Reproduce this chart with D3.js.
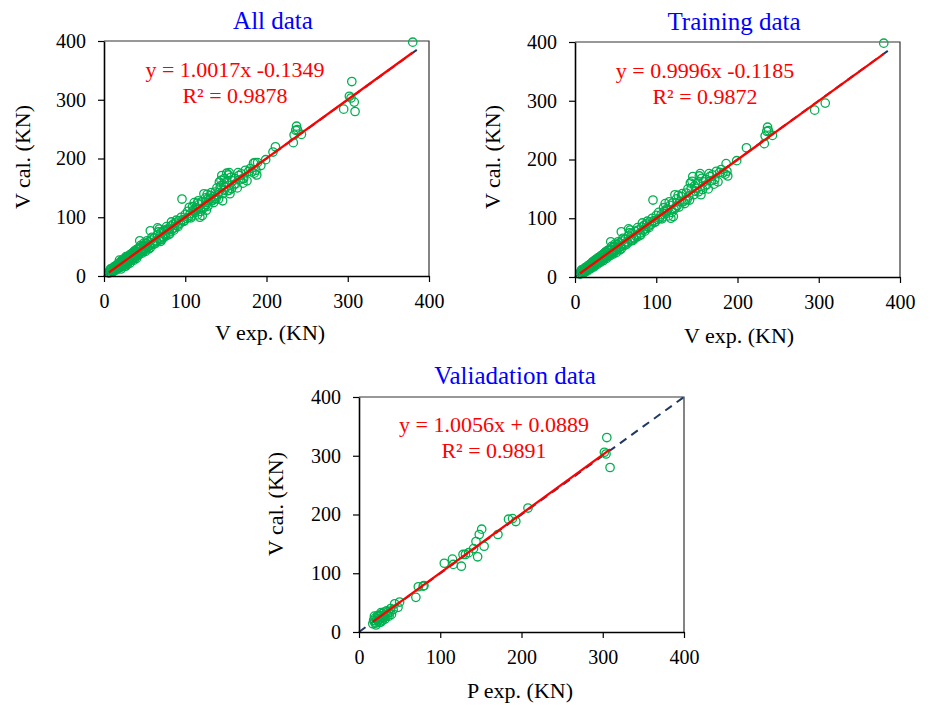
<!DOCTYPE html>
<html>
<head>
<meta charset="utf-8">
<script src="https://cdn.jsdelivr.net/npm/d3@7"></script>
<style>
  body { margin: 0; background: #fff; }
  svg { display: block; }
  text { font-family: "Liberation Serif", "Times New Roman", serif; }
</style>
</head>
<body>
<div id="chart"></div>
<script>
// --- Data ---
const titles = ["All data", "Training data", "Valiadation data"];
const xLabels = ["V exp. (KN)", "V exp. (KN)", "P exp. (KN)"];
const yLabel = "V cal. (KN)";
const equations = ["y = 1.0017x -0.1349", "y = 0.9996x -0.1185", "y = 1.0056x + 0.0889"];
const r2Labels = ["R² = 0.9878", "R² = 0.9872", "R² = 0.9891"];
const slopes = [1.0017, 0.9996, 1.0056];
const intercepts = [-0.1349, -0.1185, 0.0889];
const diagonalMax = [390, 390, 400];
const ticks = [0, 100, 200, 300, 400];

// [exp, cal]
const trainingPoints = [
  [6,5],[7,9],[8,6],[9,11],[10,8],[10,13],[11,10],[12,9],[12,15],[13,12],[14,11],[14,17],
  [15,14],[16,13],[16,19],[17,16],[18,14],[18,21],[19,18],[20,16],[20,23],[21,19],[22,18],
  [22,26],[23,21],[24,20],[24,28],[25,23],[26,22],[26,30],[27,25],[28,24],[28,32],[29,27],
  [30,26],[30,34],[31,29],[32,27],[32,36],[33,31],[34,30],[34,38],[35,33],[36,31],[36,40],
  [37,35],[38,34],[38,43],[39,37],[40,35],[40,45],[41,39],[42,38],[43,47],[44,41],[44,60],
  [45,40],[46,50],[47,44],[48,43],[49,52],[50,47],[51,46],[52,55],[53,50],[54,49],[55,58],
  [56,52],[57,48],[57,77],[58,61],[60,56],[61,54],[62,65],[64,60],[65,58],[66,70],[66,82],
  [68,64],[68,80],[69,62],[70,74],[72,67],[73,65],[74,78],[75,70],[76,68],[78,80],[80,75],
  [81,72],[82,85],[84,80],[85,88],[86,78],[88,90],[90,86],[92,94],[94,90],[96,131],[97,96],
  [98,93],[100,105],[102,98],[104,100],[106,106],[108,102],[110,112],[111,125],[112,108],
  [114,114],[115,104],[117,122],[118,100],[120,126],[121,103],[122,115],[123,140],[124,118],
  [126,122],[127,139],[129,128],[131,137],[133,128],[135,125],[137,143],[138,132],[140,138],
  [141,131],[142,160],[143,151],[145,171],[146,140],[148,146],[150,151],[152,145],[154,176],
  [155,140],[156,168],[158,162],[160,155],[162,157],[164,150],[166,171],[168,164],[171,158],
  [174,180],[176,162],[178,178],[182,177],[185,175],[188,172],[199,198],[211,220],[233,227],
  [234,240],[236,248],[237,255],[238,249],[243,241],[295,284],[308,296],[380,398],
  [8,12],[11,7],[13,16],[15,10],[17,20],[19,14],[21,25],[23,17],[25,29],[27,21],[29,33],
  [31,25],[33,37],[35,28],[37,42],[39,32],[41,46],[43,36],[45,52],[47,39],[49,56],[51,42],
  [53,60],[55,46],[59,66],[63,55],[67,75],[71,62],[77,84],[79,70],[83,92],[87,82],[89,95],
  [91,84],[95,100],[99,94],[103,110],[107,99],[109,118],[113,116],[116,128],[119,110],
  [125,133],[128,119],[132,142],[136,131],[139,150],[144,163],[147,155],[151,160],[153,172],
  [157,149],[161,166],[165,176],[169,174],[172,166],[180,183],[186,193],[187,180]
];

const validationPoints = [
  [17,14],[18,20],[19,17],[20,24],[21,15],[22,22],[23,19],[24,26],[25,21],[26,28],[27,17],
  [28,31],[29,24],[30,27],[31,34],[32,22],[33,30],[35,28],[36,35],[38,33],[40,30],[42,38],
  [44,48],[48,42],[50,51],[70,59],[73,77],[79,78],[80,79],[105,117],[115,124],[116,115],
  [126,112],[128,132],[131,132],[135,135],[141,142],[144,154],[146,128],[148,166],[151,175],
  [154,146],[171,166],[184,192],[189,193],[193,188],[208,211],[302,306],[304,303],[305,331],
  [309,280],[19,27],[21,12],[23,28],[25,16],[27,33],[29,20],[31,25],[34,36],[37,27],[39,40]
];

const allPoints = trainingPoints.concat(validationPoints);
const panelData = [allPoints, trainingPoints, validationPoints];

// --- Layout ---
const W = 932, H = 705;
const plotW = 325, plotH = 235;
const layout = [
  { left: 104, top: 41, titleX: 273, titleY: 29, eqX: 235, eqY: 77, xlabX: 270, xlabY: 340, ylabX: 30, ylabY: 157 },
  { left: 575, top: 42, titleX: 734, titleY: 30, eqX: 705, eqY: 78, xlabX: 739, xlabY: 343, ylabX: 500, ylabY: 157 },
  { left: 359, top: 397, titleX: 515, titleY: 384, eqX: 494, eqY: 432, xlabX: 520, xlabY: 698, ylabX: 283, ylabY: 504 }
];

const svg = d3.select("#chart").append("svg")
  .attr("width", W)
  .attr("height", H);

const x = d3.scaleLinear().domain([0, 400]).range([0, plotW]);
const y = d3.scaleLinear().domain([0, 400]).range([plotH, 0]);

layout.forEach((L, i) => {
  const pts = panelData[i];
  const g = svg.append("g").attr("transform", `translate(${L.left},${L.top})`);

  // frame (top + right)
  g.append("path")
    .attr("d", `M0,${y(400)}H${x(400)}V${y(0)}`)
    .attr("fill", "none")
    .attr("stroke", "#333")
    .attr("stroke-width", 1.2);

  // 1:1 dashed line
  g.append("line")
    .attr("x1", x(0)).attr("y1", y(0))
    .attr("x2", x(diagonalMax[i])).attr("y2", y(diagonalMax[i]))
    .attr("stroke", "#1f3864")
    .attr("stroke-width", 2)
    .attr("stroke-dasharray", "8,6");

  // points
  g.selectAll(".pt")
    .data(pts)
    .join("circle")
    .attr("class", "pt")
    .attr("cx", d => x(d[0]))
    .attr("cy", d => y(d[1]))
    .attr("r", 4.2)
    .attr("fill", "none")
    .attr("stroke", "#00b050")
    .attr("stroke-width", 1.3);

  // regression line over the data range
  const [x0, x1] = d3.extent(pts, d => d[0]);
  g.append("line")
    .attr("x1", x(x0)).attr("y1", y(slopes[i] * x0 + intercepts[i]))
    .attr("x2", x(x1)).attr("y2", y(slopes[i] * x1 + intercepts[i]))
    .attr("stroke", "#ff0000")
    .attr("stroke-width", 2.3);

  // axes
  const xAxis = g.append("g")
    .attr("transform", `translate(0,${plotH})`)
    .call(d3.axisBottom(x).tickValues(ticks).tickSize(6).tickSizeOuter(0).tickPadding(12));
  const yAxis = g.append("g")
    .call(d3.axisLeft(y).tickValues(ticks).tickSize(6).tickSizeOuter(0).tickPadding(12));
  [xAxis, yAxis].forEach(a => {
    a.select(".domain").attr("stroke", "#000").attr("stroke-width", 1.6);
    a.selectAll(".tick line").attr("stroke", "#000").attr("stroke-width", 1.2);
    a.selectAll("text")
      .attr("fill", "#000")
      .style("font-family", '"Liberation Serif", "Times New Roman", serif')
      .style("font-size", "20px");
  });

  // title
  svg.append("text")
    .attr("x", L.titleX).attr("y", L.titleY)
    .attr("text-anchor", "middle")
    .attr("fill", "#0000ff")
    .style("font-size", "25px")
    .text(titles[i]);

  // equation
  svg.append("text")
    .attr("x", L.eqX).attr("y", L.eqY)
    .attr("text-anchor", "middle")
    .attr("fill", "#ff0000")
    .style("font-size", "22px")
    .text(equations[i]);
  svg.append("text")
    .attr("x", L.eqX).attr("y", L.eqY + 26)
    .attr("text-anchor", "middle")
    .attr("fill", "#ff0000")
    .style("font-size", "22px")
    .text(r2Labels[i]);

  // axis titles
  svg.append("text")
    .attr("x", L.xlabX).attr("y", L.xlabY)
    .attr("text-anchor", "middle")
    .style("font-size", "22px")
    .text(xLabels[i]);
  svg.append("text")
    .attr("transform", `translate(${L.ylabX},${L.ylabY}) rotate(-90)`)
    .attr("text-anchor", "middle")
    .style("font-size", "22px")
    .text(yLabel);
});
</script>
</body>
</html>
